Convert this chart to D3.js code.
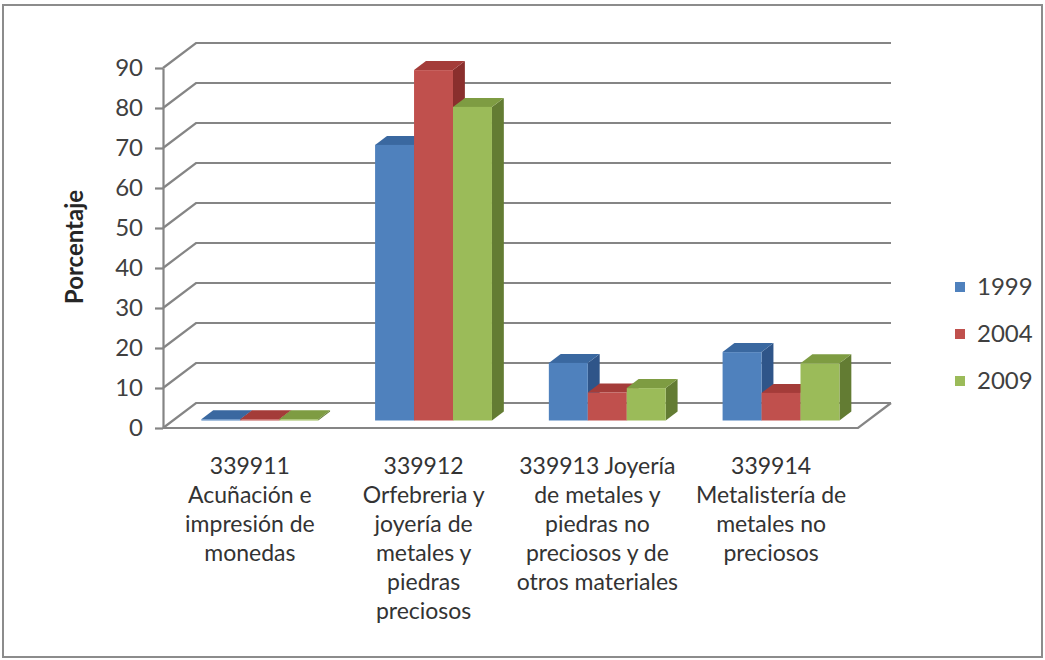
<!DOCTYPE html>
<html>
<head>
<meta charset="utf-8">
<script src="https://cdn.jsdelivr.net/npm/d3@7"></script>
<style>
  body { margin: 0; background: #fff; }
  svg text { font-family: Lato, "Open Sans", sans-serif; }
</style>
</head>
<body>
<svg id="chart"></svg>
<script>
const categories = ["339911", "339912", "339913", "339914"];
const categoryLines = [
    ["339911", "Acuñación e", "impresión de", "monedas"],
    ["339912", "Orfebreria y", "joyería de", "metales y", "piedras", "preciosos"],
    ["339913 Joyería", "de metales y", "piedras no", "preciosos y de", "otros materiales"],
    ["339914", "Metalistería de", "metales no", "preciosos"]
];
const years = ["1999", "2004", "2009"];
const values1999 = [0.3, 68.9, 14.4, 17.1];
const values2004 = [0.3, 87.6, 7.0, 6.9];
const values2009 = [0.3, 78.4, 8.1, 14.3];
const yTicks = [0, 10, 20, 30, 40, 50, 60, 70, 80, 90];

const width = 1045, height = 660;
const svg = d3.select("#chart").attr("width", width).attr("height", height);

// colours: front, top, side
const colors = {
    "1999": ["#4F81BD", "#3A68A0", "#2F5589"],
    "2004": ["#C0504D", "#A43C39", "#8A2F2D"],
    "2009": ["#9BBB59", "#7E9C42", "#637C33"]
};
const seriesValues = { "1999": values1999, "2004": values2004, "2009": values2009 };

// chart border
svg.append("rect").attr("x", 3).attr("y", 5).attr("width", 1039).attr("height", 652)
    .attr("fill", "none").attr("stroke", "#8c8c8c").attr("stroke-width", 2);

const x0 = d3.scaleBand().domain(categories).range([163, 858]);
const x1 = d3.scaleBand().domain(years).range([0, x0.bandwidth()]).paddingOuter(0.73);
const y = d3.scaleLinear().domain([0, 90]).range([428, 68]);

// oblique depth: back wall offset
const depthX = 33, depthY = -25;
const px = (x, d) => x + d * depthX;
const py = (v, d) => y(v) + d * depthY;

const gridColor = "#858585";
const grid = svg.append("g").attr("fill", "none").attr("stroke", gridColor).attr("stroke-width", 2.2);

// back wall gridlines and side wall diagonals
grid.selectAll(".back").data(yTicks).enter().append("path")
    .attr("d", v => `M${px(163, 0)},${py(v, 0)}L${px(163, 1)},${py(v, 1)}L${px(858, 1)},${py(v, 1)}`);

// floor front and right edges
grid.append("path")
    .attr("d", `M163,${y(0)}L858,${y(0)}L${px(858, 1)},${py(0, 1)}`);

// bars
const dFront = 0.3, dBack = 0.66;
categories.forEach((cat, i) => {
    const g = svg.append("g");
    years.forEach(yr => {
        const v = seriesValues[yr][i];
        const xl = x0(cat) + x1(yr);
        const xr = xl + x1.bandwidth();
        const c = colors[yr];
        // side
        g.append("path").attr("fill", c[2])
            .attr("d", `M${px(xr, dFront)},${py(0, dFront)}L${px(xr, dBack)},${py(0, dBack)}L${px(xr, dBack)},${py(v, dBack)}L${px(xr, dFront)},${py(v, dFront)}Z`);
        // top
        g.append("path").attr("fill", c[1])
            .attr("d", `M${px(xl, dFront)},${py(v, dFront)}L${px(xl, dBack)},${py(v, dBack)}L${px(xr, dBack)},${py(v, dBack)}L${px(xr, dFront)},${py(v, dFront)}Z`);
        // front
        g.append("rect").attr("fill", c[0])
            .attr("x", px(xl, dFront)).attr("y", py(v, dFront))
            .attr("width", x1.bandwidth()).attr("height", y(0) - y(v));
    });
});

// y axis
const yAxis = svg.append("g").attr("transform", "translate(163,0)")
    .call(d3.axisLeft(y).tickValues(yTicks).tickSize(8).tickSizeOuter(0).tickPadding(12));
yAxis.select(".domain").attr("stroke", gridColor).attr("stroke-width", 2.2);
yAxis.selectAll(".tick line").attr("stroke", gridColor).attr("stroke-width", 2.2);
yAxis.selectAll(".tick text").attr("font-size", 24).attr("fill", "#404040")
    .style("font-family", "Lato, sans-serif");

svg.append("text").attr("transform", "translate(83,247) rotate(-90)")
    .attr("text-anchor", "middle").attr("font-size", 24).attr("font-weight", "bold")
    .attr("fill", "#262626").text("Porcentaje");

// category labels
const labels = svg.append("g").attr("font-size", 23).attr("fill", "#333").attr("text-anchor", "middle");
categories.forEach((cat, i) => {
    const t = labels.append("text").attr("x", x0(cat) + x0.bandwidth() / 2).attr("y", 474);
    categoryLines[i].forEach((line, j) => {
        t.append("tspan").attr("x", x0(cat) + x0.bandwidth() / 2).attr("dy", j === 0 ? 0 : 29).text(line);
    });
});

// legend
const legendY = d3.scalePoint().domain(years).range([287, 381]);
const legend = svg.append("g");
years.forEach(yr => {
    legend.append("rect").attr("x", 955).attr("y", legendY(yr) - 5).attr("width", 10).attr("height", 10)
        .attr("fill", colors[yr][0]);
    legend.append("text").attr("x", 977).attr("y", legendY(yr) + 8).attr("font-size", 24)
        .attr("fill", "#404040").text(yr);
});
</script>
</body>
</html>
